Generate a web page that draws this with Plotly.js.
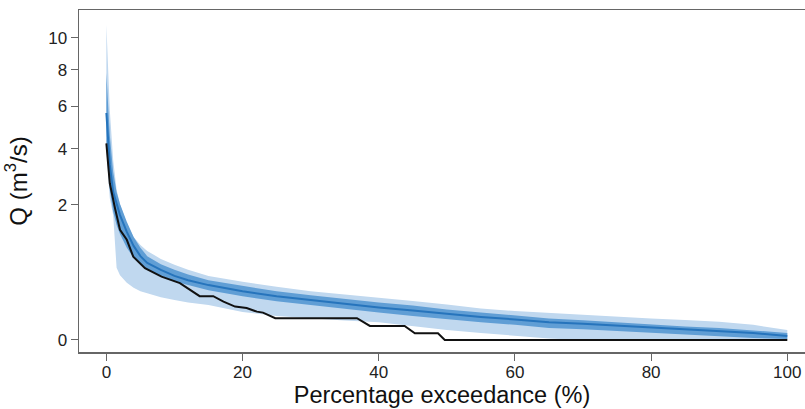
<!DOCTYPE html>
<html>
<head>
<meta charset="utf-8">
<script src="https://cdn.plot.ly/plotly-3.0.1.min.js"></script>
<style>html,body{margin:0;padding:0;background:#fff;}#chart{width:805px;height:409px;}</style>
</head>
<body>
<div id="chart"></div>
<script>
// Percentage exceedance grid for the simulated ensemble (%)
const pct = [0, 0.5, 1, 1.5, 2, 3, 4, 5, 6, 8, 10, 12, 15, 20, 25, 30, 35, 40, 45, 50, 55, 60, 65, 70, 75, 80, 85, 90, 95, 100];
// Simulated median flow (m3/s)
const simMedian = [5.65, 3.36, 2.40, 2.00, 1.71, 1.28, 0.97, 0.77, 0.65, 0.54, 0.45, 0.39, 0.33, 0.26, 0.21, 0.175, 0.142, 0.116, 0.095, 0.074, 0.058, 0.046, 0.034, 0.029, 0.023, 0.017, 0.012, 0.0089, 0.0054, 0.0018];
// Inner uncertainty band (m3/s)
const innerUpper = [7.82, 4.61, 3.09, 2.40, 2.03, 1.53, 1.16, 0.93, 0.77, 0.63, 0.54, 0.47, 0.39, 0.32, 0.26, 0.22, 0.184, 0.154, 0.130, 0.102, 0.083, 0.066, 0.051, 0.043, 0.034, 0.026, 0.020, 0.016, 0.0099, 0.0054];
const innerLower = [4.17, 2.47, 1.80, 1.45, 1.23, 0.93, 0.74, 0.62, 0.54, 0.45, 0.375, 0.33, 0.27, 0.21, 0.164, 0.134, 0.105, 0.083, 0.063, 0.046, 0.034, 0.025, 0.016, 0.0126, 0.0089, 0.0054, 0.0027, 0.0013, 0.0004, 0.0001];
// Outer uncertainty band (m3/s)
const outerUpper = [10.9, 5.80, 3.55, 2.47, 2.03, 1.48, 1.16, 0.99, 0.87, 0.72, 0.62, 0.54, 0.45, 0.37, 0.31, 0.26, 0.227, 0.198, 0.167, 0.138, 0.109, 0.092, 0.080, 0.069, 0.061, 0.051, 0.044, 0.036, 0.025, 0.011];
const outerLower = [3.96, 2.20, 1.71, 0.57, 0.46, 0.36, 0.30, 0.26, 0.24, 0.20, 0.175, 0.154, 0.134, 0.086, 0.063, 0.051, 0.042, 0.034, 0.021, 0.011, 0.0054, 0.0018, 0.0002, 0, 0, 0, 0, 0, 0, 0];
// Observed flow duration curve
const obsPct = [0, 0.5, 1.26, 2.0, 3.0, 3.95, 5.67, 8.1, 10.8, 13.7, 15.7, 17.2, 18.9, 20.6, 22.1, 23.0, 24.8, 36.8, 38.7, 43.8, 45.3, 48.7, 49.7, 100];
const obsQ = [4.24, 2.69, 1.91, 1.33, 1.10, 0.76, 0.564, 0.44, 0.355, 0.21, 0.21, 0.161, 0.122, 0.112, 0.088, 0.082, 0.052, 0.052, 0.0215, 0.0215, 0.0049, 0.0049, 0, 0];
// Axis ticks
const xTicks = [0, 20, 40, 60, 80, 100];
const yTicks = [0, 2, 4, 6, 8, 10];

// square-root transformed axis
const tr = a => a.map(v => Math.sqrt(v));

const lightBlue = 'rgb(192,216,239)';
const midBlue = 'rgb(96,158,213)';
const darkBlue = 'rgb(38,116,188)';

const traces = [
  {x: pct, y: tr(outerLower), mode: 'lines', line: {width: 0, color: lightBlue}, hoverinfo: 'skip', showlegend: false},
  {x: pct, y: tr(outerUpper), mode: 'lines', line: {width: 0, color: lightBlue}, fill: 'tonexty', fillcolor: lightBlue, hoverinfo: 'skip', showlegend: false},
  {x: pct, y: tr(innerLower), mode: 'lines', line: {width: 0, color: midBlue}, hoverinfo: 'skip', showlegend: false},
  {x: pct, y: tr(innerUpper), mode: 'lines', line: {width: 0, color: midBlue}, fill: 'tonexty', fillcolor: midBlue, hoverinfo: 'skip', showlegend: false},
  {x: pct, y: tr(simMedian), mode: 'lines', line: {width: 2, color: darkBlue}, showlegend: false},
  {x: obsPct, y: tr(obsQ), mode: 'lines', line: {width: 2, color: '#111'}, showlegend: false}
];

const axisColor = '#666';
const layout = {
  width: 805, height: 409,
  margin: {l: 79, r: 0, t: 10, b: 57},
  paper_bgcolor: '#fff', plot_bgcolor: '#fff',
  font: {family: '"Liberation Sans", Arial, sans-serif', color: '#222', size: 17},
  showlegend: false,
  xaxis: {
    range: [-4.02, 102.6], showgrid: false, zeroline: false,
    showline: true, linecolor: axisColor, linewidth: 1.5, mirror: true,
    ticks: 'outside', ticklen: 7, tickcolor: axisColor, tickwidth: 1,
    ticklabelstandoff: -3,
    tickvals: xTicks, ticktext: xTicks.map(String),
    tickfont: {size: 17, color: '#222'},
    title: {text: 'Percentage exceedance (%)', font: {size: 23.5, color: '#111'}, standoff: 2}
  },
  yaxis: {
    range: [-0.126, 3.455], showgrid: false, zeroline: false,
    showline: true, linecolor: axisColor, linewidth: 1.5,
    ticks: 'outside', ticklen: 7, tickcolor: axisColor, tickwidth: 1,
    tickvals: yTicks.map(v => Math.sqrt(v)), ticktext: yTicks.map(String),
    tickfont: {size: 17, color: '#222'},
    title: {text: 'Q (m<sup>3</sup>/s)', font: {size: 24, color: '#111'}, standoff: 14}
  }
};

Plotly.newPlot('chart', traces, layout, {staticPlot: true, displayModeBar: false});
</script>
</body>
</html>
